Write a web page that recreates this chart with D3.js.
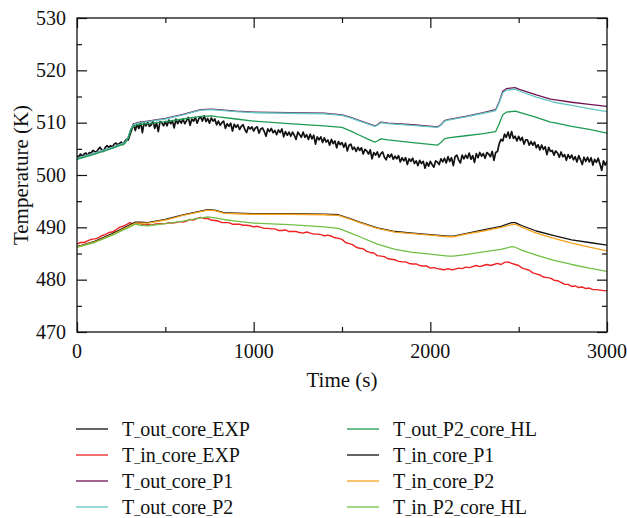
<!DOCTYPE html>
<html>
<head>
<meta charset="utf-8">
<script src="https://cdn.jsdelivr.net/npm/d3@7"></script>
<style>
  html, body { margin: 0; padding: 0; background: #fff; }
  svg { display: block; }
  text { font-family: "Liberation Serif", "DejaVu Serif", serif; fill: #111; }
</style>
</head>
<body>
<svg id="chart" width="627" height="518"></svg>
<script>
// Measured core outlet temperature, sampled every expOutStep seconds
const expOutStep = 10;
const outCoreExp = [
  503.6,503.5,504.0,503.5,504.0,504.2,503.7,504.3,504.2,504.7,
  504.5,504.4,504.9,505.3,504.8,504.5,505.3,505.6,505.3,505.6,
  505.3,505.9,506.1,505.8,506.0,506.3,505.8,506.4,506.8,506.7,
  507.7,508.7,509.7,508.5,509.7,508.9,510.1,508.1,510.0,509.4,
  510.1,509.3,509.6,510.3,508.9,510.0,508.3,510.2,510.0,509.4,
  510.2,509.4,510.5,509.8,510.3,509.0,510.7,509.8,510.5,509.9,
  510.7,509.8,510.4,511.0,509.5,510.7,510.3,511.0,509.9,510.8,
  511.1,510.3,511.3,510.2,510.8,509.9,510.9,510.3,510.7,509.6,
  510.3,509.5,510.0,510.3,508.9,509.8,509.3,509.9,508.4,509.7,
  509.1,509.6,508.7,509.3,509.6,508.7,508.1,509.2,508.8,509.2,
  508.4,509.0,509.2,508.0,508.8,509.0,508.3,507.4,508.8,508.3,
  508.9,508.1,508.5,507.7,508.6,508.1,508.8,507.3,508.3,507.6,
  508.2,507.4,508.2,507.6,506.8,508.2,507.7,507.2,508.2,507.2,
  507.7,506.8,507.8,506.9,507.6,505.9,507.3,506.7,507.3,506.2,
  507.1,506.3,506.7,505.7,506.8,506.0,506.5,505.2,506.4,505.8,
  506.2,505.3,506.1,504.6,505.7,505.9,504.9,505.3,504.5,505.3,
  504.7,505.2,504.0,504.9,504.6,504.0,504.8,503.1,504.3,503.8,
  504.4,503.4,504.1,504.4,503.4,502.9,503.9,503.4,504.0,503.0,
  503.6,503.1,503.7,502.5,503.3,502.7,503.3,502.0,503.1,502.6,
  503.2,502.2,502.7,501.8,502.8,502.2,502.6,501.3,502.4,501.7,
  502.6,502.0,501.5,502.7,502.5,502.0,503.1,502.5,503.2,502.3,
  503.5,502.6,503.3,501.8,503.5,503.8,502.9,502.3,503.8,503.1,
  503.8,503.2,504.2,503.0,503.7,502.4,504.1,503.3,504.3,503.6,
  504.1,503.2,504.3,504.0,503.5,504.5,502.8,504.3,504.5,506.0,
  506.8,506.5,507.8,507.2,508.2,507.0,508.3,507.0,507.4,506.5,
  507.4,506.6,507.2,505.9,506.7,506.7,505.7,506.4,505.7,506.3,
  505.2,505.8,504.8,505.7,504.9,505.4,503.9,505.3,504.5,504.7,
  503.8,504.6,504.2,503.4,504.4,503.5,503.9,502.8,503.9,503.2,
  503.8,502.9,503.5,502.5,503.7,502.9,502.0,503.4,502.6,503.4,
  502.5,503.3,501.9,503.0,502.4,503.2,502.1,500.9,502.7,501.9,
  502.6
];

// Measured core inlet temperature, sampled every expInStep seconds
const expInStep = 20;
const inCoreExp = [
  486.8,487.1,487.1,487.4,487.7,487.8,488.0,488.4,488.6,489.0,
  489.1,489.5,490.0,490.2,490.5,490.9,490.6,490.7,490.7,490.4,
  490.6,490.4,490.6,490.7,490.7,490.7,490.9,490.8,490.9,491.1,
  491.0,491.2,491.5,491.4,491.7,491.9,491.7,491.7,491.4,491.3,
  491.2,490.9,490.9,490.9,490.6,490.6,490.6,490.4,490.4,490.3,
  490.1,490.2,490.0,489.8,489.8,489.7,489.7,489.4,489.4,489.5,
  489.2,489.2,489.2,489.0,488.9,489.1,488.9,488.7,488.7,488.6,
  488.4,488.5,488.3,488.0,487.9,487.7,487.1,486.9,486.7,486.2,
  486.0,485.9,485.4,485.2,485.1,484.6,484.5,484.4,484.0,483.9,
  483.8,483.5,483.4,483.4,483.1,483.0,483.0,482.7,482.6,482.6,
  482.2,482.3,482.1,482.0,481.9,482.1,481.9,482.0,482.2,482.1,
  482.4,482.3,482.5,482.7,482.5,482.7,482.9,482.7,482.9,483.1,
  482.9,483.3,483.4,483.1,482.9,482.7,482.2,482.0,481.8,481.3,
  481.1,480.9,480.5,480.4,480.3,479.9,479.8,479.5,479.1,479.1,
  478.7,478.8,478.5,478.6,478.3,478.4,478.1,478.1,478.0,477.9,
  477.9
];

// Simulated outlet temperatures
const outTimes = [0,100,200,270,290,305,320,340,400,500,600,700,760,800,900,1000,1200,1400,1500,1550,1600,1650,1685,1700,1720,1760,1900,2040,2060,2080,2100,2200,2300,2370,2390,2410,2430,2480,2500,2600,2680,2700,2800,2900,3000];
const outCoreP1 = [503.2,504.2,505.3,506.2,507.2,508.8,509.7,510.0,510.3,510.8,511.6,512.5,512.6,512.5,512.2,512.0,511.9,511.8,511.5,511.0,510.4,509.8,509.4,509.6,510.1,509.9,509.6,509.2,509.6,510.4,510.6,511.2,511.9,512.5,514.0,516.0,516.5,516.7,516.4,515.3,514.5,514.4,513.9,513.5,513.1];
const outCoreP2 = [503.2,504.2,505.3,506.2,507.2,508.8,509.6,509.9,510.2,510.7,511.5,512.4,512.5,512.4,512.1,511.9,511.8,511.7,511.4,510.9,510.3,509.7,509.3,509.5,510.0,509.8,509.5,509.1,509.5,510.3,510.5,511.1,511.8,512.3,513.8,515.7,516.2,516.4,516.1,514.9,514.1,513.9,513.3,512.7,512.1];
const outP2CoreHL = [503.0,504.0,505.1,506.0,507.0,508.6,509.3,509.6,509.8,510.2,510.7,511.2,511.3,511.1,510.7,510.3,509.8,509.4,509.1,508.4,507.6,506.8,506.3,506.5,506.9,506.7,506.2,505.7,506.2,506.9,507.1,507.5,507.9,508.3,509.8,511.5,512.0,512.2,512.0,511.0,510.1,510.0,509.3,508.7,508.0];

// Simulated inlet temperatures
const inTimes = [0,100,200,300,330,360,400,500,600,700,740,780,830,900,1000,1200,1400,1480,1550,1600,1700,1800,1900,2000,2100,2130,2200,2300,2400,2460,2480,2520,2600,2700,2800,2900,3000];
const inCoreP1 = [486.3,487.3,488.8,490.5,491.0,491.0,490.9,491.5,492.4,493.1,493.4,493.3,492.8,492.7,492.6,492.6,492.5,492.4,491.6,491.0,489.9,489.2,488.9,488.6,488.3,488.3,488.8,489.5,490.2,490.9,490.9,490.3,489.3,488.4,487.6,487.1,486.6];
const inCoreP2 = [486.2,487.2,488.6,490.3,490.8,490.8,490.8,491.4,492.3,493.0,493.3,493.2,492.7,492.6,492.5,492.5,492.4,492.3,491.5,490.9,489.8,489.1,488.8,488.5,488.2,488.2,488.7,489.3,490.0,490.5,490.6,490.0,488.9,487.9,487.0,486.2,485.5];
const inP2CoreHL = [486.2,487.1,488.5,490.1,490.6,490.4,490.3,490.7,491.2,491.8,492.0,491.8,491.5,491.2,490.8,490.5,490.1,489.8,488.9,488.2,486.8,485.8,485.2,484.9,484.5,484.5,484.8,485.3,485.8,486.3,486.2,485.6,484.7,483.7,482.9,482.2,481.6];

const xTicks = [0, 1000, 2000, 3000];
const yTicks = [470, 480, 490, 500, 510, 520, 530];

const sampled = (vals, step) => vals.map((v, i) => [i * step, v]);
const paired = (times, vals) => times.map((t, i) => [t, vals[i]]);

const series = [
  { name: "T_out_core_EXP",    color: "#111111", width: 1.7, data: sampled(outCoreExp, expOutStep) },
  { name: "T_in_core_EXP",     color: "#ee2222", width: 1.4, data: sampled(inCoreExp, expInStep) },
  { name: "T_out_core_P1",     color: "#6e1452", width: 1.3, data: paired(outTimes, outCoreP1) },
  { name: "T_out_core_P2",     color: "#62c6c2", width: 1.3, data: paired(outTimes, outCoreP2) },
  { name: "T_out_P2_core_HL",  color: "#1f9a52", width: 1.3, data: paired(outTimes, outP2CoreHL) },
  { name: "T_in_core_P1",      color: "#111111", width: 1.3, data: paired(inTimes, inCoreP1) },
  { name: "T_in_core_P2",      color: "#f5a21e", width: 1.3, data: paired(inTimes, inCoreP2) },
  { name: "T_in_P2_core_HL",   color: "#72bf45", width: 1.3, data: paired(inTimes, inP2CoreHL) }
];

const svg = d3.select("#chart");
const plot = { left: 77, right: 607, top: 18, bottom: 332 };

const x = d3.scaleLinear().domain([0, 3000]).range([plot.left, plot.right]);
const y = d3.scaleLinear().domain([470, 530]).range([plot.bottom, plot.top]);

svg.append("defs").append("clipPath").attr("id", "plotClip")
  .append("rect")
  .attr("x", plot.left).attr("y", plot.top)
  .attr("width", plot.right - plot.left).attr("height", plot.bottom - plot.top);

// Data lines
const line = d3.line().x(d => x(d[0])).y(d => y(d[1]));
const lines = svg.append("g").attr("clip-path", "url(#plotClip)");
series.forEach(s => {
  lines.append("path")
    .datum(s.data)
    .attr("fill", "none")
    .attr("stroke", s.color)
    .attr("stroke-width", s.width)
    .attr("stroke-linejoin", "round")
    .attr("d", line);
});

// Frame with inward ticks on all sides
const xMinor = d3.range(500, 3000, 1000);
const yMinor = d3.range(475, 530, 10);
const tickStyle = g => g.call(gg => gg.select(".domain").remove())
  .selectAll("line").attr("stroke", "#111").attr("stroke-width", 1.2);

const frameAxes = [
  [d3.axisBottom(x), `translate(0,${plot.bottom})`, xTicks, xMinor],
  [d3.axisTop(x), `translate(0,${plot.top})`, xTicks, xMinor],
  [d3.axisLeft(y), `translate(${plot.left},0)`, yTicks, yMinor],
  [d3.axisRight(y), `translate(${plot.right},0)`, yTicks, yMinor]
];
frameAxes.forEach(([axis, tr, major, minor]) => {
  svg.append("g").attr("transform", tr)
    .call(axis.tickValues(major).tickSize(-10).tickFormat(""))
    .call(tickStyle);
  svg.append("g").attr("transform", tr)
    .call(axis.tickValues(minor).tickSize(-5).tickFormat(""))
    .call(tickStyle);
});

svg.append("rect")
  .attr("x", plot.left).attr("y", plot.top)
  .attr("width", plot.right - plot.left).attr("height", plot.bottom - plot.top)
  .attr("fill", "none").attr("stroke", "#111").attr("stroke-width", 1.3);

// Tick labels
svg.append("g").selectAll("text").data(xTicks).join("text")
  .attr("x", d => x(d)).attr("y", 358)
  .attr("text-anchor", "middle").attr("font-size", 20)
  .text(d => d);
svg.append("g").selectAll("text").data(yTicks).join("text")
  .attr("x", 66).attr("y", d => y(d)).attr("dy", "0.34em")
  .attr("text-anchor", "end").attr("font-size", 20)
  .text(d => d);

// Axis titles
svg.append("text")
  .attr("x", (plot.left + plot.right) / 2).attr("y", 387)
  .attr("text-anchor", "middle").attr("font-size", 21)
  .text("Time (s)");
svg.append("text")
  .attr("transform", `translate(28,${(plot.top + plot.bottom) / 2}) rotate(-90)`)
  .attr("text-anchor", "middle").attr("font-size", 21)
  .text("Temperature (K)");

// Legend: two columns of four entries; underscores set in a smaller size
const legend = svg.append("g");
series.forEach((s, i) => {
  const col = Math.floor(i / 4), row = i % 4;
  const lx = col === 0 ? 76 : 347;
  const ly = 429 + row * 26;
  legend.append("line")
    .attr("x1", lx).attr("x2", lx + 32).attr("y1", ly).attr("y2", ly)
    .attr("stroke", s.color).attr("stroke-width", 1.3);
  const label = legend.append("text")
    .attr("x", lx + 46).attr("y", ly + 7)
    .attr("font-size", 20);
  s.name.split("_").forEach((part, k) => {
    if (k > 0) label.append("tspan").attr("font-size", 12).text("_");
    label.append("tspan").text(part);
  });
});
</script>
</body>
</html>
